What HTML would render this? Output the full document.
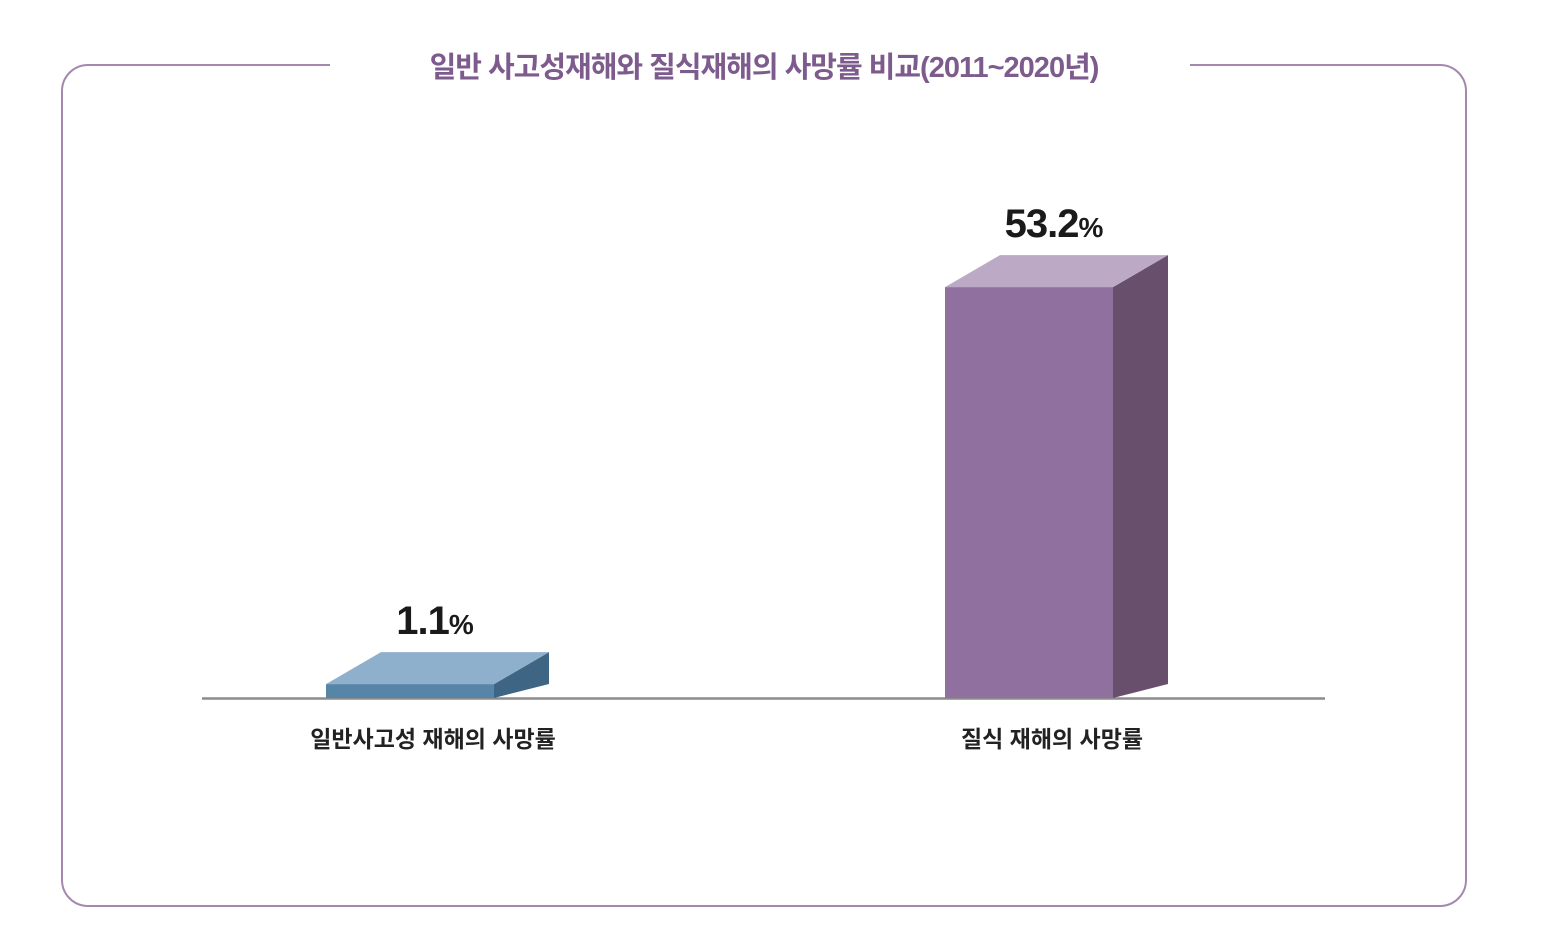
<!DOCTYPE html>
<html><head><meta charset="utf-8"><style>
html,body{margin:0;padding:0;background:#fff;}
body{width:1547px;height:943px;position:relative;overflow:hidden;font-family:"Liberation Sans","Noto Sans CJK KR",sans-serif;}
</style></head><body>
<svg id="chart" width="1547" height="943" viewBox="0 0 1547 943" xmlns="http://www.w3.org/2000/svg">
<rect x="62" y="65" width="1404" height="841" rx="26" ry="26" fill="#fff" stroke="#a488ad" stroke-width="2"/>
<rect x="330" y="50" width="860" height="30" fill="#fff"/>
<text x="764" y="77" text-anchor="middle" font-size="29" font-weight="bold" fill="#7d5b8d" font-family="'Liberation Sans','Noto Sans CJK KR',sans-serif" letter-spacing="-1">일반 사고성재해와 질식재해의 사망률 비교(2011~2020년)</text>
<line x1="202" y1="698.5" x2="1325" y2="698.5" stroke="#8c8c8c" stroke-width="2.5"/>
<g id="bars"></g>
</svg>
<script>
const categories = ["일반사고성 재해의 사망률", "질식 재해의 사망률"];
const values = [1.1, 53.2];
const valueLabels = ["1.1", "53.2"];
const baseY = 698, barW = 168, dx = 55, dy = 32;
const centers = [410, 1029];
const palettes = [
  {front:"#5785a8", top:"#8fb0cc", side:"#3f6585"},
  {front:"#8f709e", top:"#bca9c5", side:"#68506c"}
];
function yScale(v){ return baseY - (5.5 + v * 7.62); }
const g = document.getElementById('bars');
const NS = "http://www.w3.org/2000/svg";
values.forEach((v, i) => {
  const x0 = centers[i] - barW/2, x1 = x0 + barW, yt = yScale(v), p = palettes[i];
  const side = document.createElementNS(NS, 'polygon');
  
  
  side.setAttribute('points', `${x1},${yt} ${x1+dx},${yt-dy} ${x1+dx},${baseY-dy+18} ${x1},${baseY}`);
  side.setAttribute('fill', p.side);
  g.appendChild(side);
  const top = document.createElementNS(NS, 'polygon');
  
  
  top.setAttribute('points', `${x0},${yt} ${x0+dx},${yt-dy} ${x1+dx},${yt-dy} ${x1},${yt}`);
  top.setAttribute('fill', p.top);
  g.appendChild(top);
  const front = document.createElementNS(NS, 'rect');
  
  
  front.setAttribute('x', x0); front.setAttribute('y', yt);
  front.setAttribute('width', barW); front.setAttribute('height', baseY - yt);
  front.setAttribute('fill', p.front);
  g.appendChild(front);
  const lbl = document.createElementNS(NS, 'text');
  
  
  lbl.setAttribute('x', centers[i] + 25); lbl.setAttribute('y', yt - dy - 18);
  lbl.setAttribute('text-anchor', 'middle');
  lbl.setAttribute('font-weight', 'bold');
  lbl.setAttribute('fill', '#1a1a1a');
  lbl.innerHTML = `<tspan font-size="40" letter-spacing="-1">${valueLabels[i]}</tspan><tspan font-size="28">%</tspan>`;
  g.appendChild(lbl);
  const cat = document.createElementNS(NS, 'text');
  
  
  cat.setAttribute('x', centers[i] + 23); cat.setAttribute('y', 747);
  cat.setAttribute('text-anchor', 'middle');
  cat.setAttribute('font-size', '23');
  cat.setAttribute('font-weight', 'bold');
  cat.setAttribute('fill', '#222');
  cat.textContent = categories[i];
  g.appendChild(cat);
});
</script>
</body></html>
